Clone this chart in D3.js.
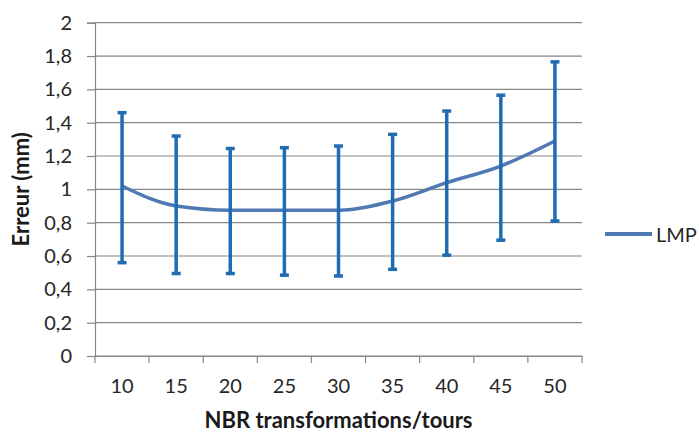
<!DOCTYPE html>
<html><head><meta charset="utf-8">
<script src="https://cdn.jsdelivr.net/npm/d3@7"></script>
<style>
html,body{margin:0;padding:0;background:#fff;}
svg{display:block;font-family:Lato,"Open Sans",sans-serif;}
</style></head>
<body>
<svg id="chart" width="699" height="434"></svg>
<script>
const categories = ["10","15","20","25","30","35","40","45","50"];
const values = [1.02, 0.90, 0.875, 0.875, 0.875, 0.93, 1.04, 1.14, 1.29];
const upper = [1.46, 1.32, 1.245, 1.25, 1.26, 1.33, 1.47, 1.565, 1.765];
const lower = [0.56, 0.495, 0.495, 0.485, 0.48, 0.52, 0.605, 0.695, 0.81];
const yTicks = [0, 0.2, 0.4, 0.6, 0.8, 1, 1.2, 1.4, 1.6, 1.8, 2];
const seriesName = "LMP";
const xTitle = "NBR transformations/tours";
const yTitle = "Erreur (mm)";

const svg = d3.select("#chart");
const m = {left: 95, right: 582, top: 22.7, bottom: 356};
const x = d3.scaleBand().domain(categories).range([m.left, m.right]).padding(0);
const y = d3.scaleLinear().domain([0, 2]).range([m.bottom, m.top]);
const fmt = d => String(d).replace(".", ",");

// gridlines
svg.append("g").selectAll("line").data(yTicks).join("line")
  .attr("x1", m.left).attr("x2", m.right)
  .attr("y1", d => y(d)).attr("y2", d => y(d))
  .attr("stroke", "#868686").attr("stroke-width", 1.2);

// y axis
const yAxis = svg.append("g").attr("transform", `translate(${m.left},0)`)
  .call(d3.axisLeft(y).tickValues(yTicks).tickFormat(fmt).tickSize(8).tickPadding(15));
yAxis.select(".domain").attr("stroke", "#868686").attr("stroke-width", 1.2);
yAxis.selectAll(".tick line").attr("stroke", "#868686").attr("stroke-width", 1.2);
yAxis.selectAll("text").attr("font-size", 20).attr("fill", "#262626").attr("font-family", "Lato");

// x axis
const xAxis = svg.append("g").attr("transform", `translate(0,${m.bottom})`)
  .call(d3.axisBottom(x).tickSize(0).tickPadding(23));
xAxis.select(".domain").attr("stroke", "#868686").attr("stroke-width", 1.2);
xAxis.selectAll("text").attr("font-size", 20).attr("fill", "#262626").attr("font-family", "Lato");
const bounds = categories.map(c => x(c)).concat([x.range()[1]]);
xAxis.append("g").selectAll("line").data(bounds).join("line")
  .attr("x1", d => d).attr("x2", d => d).attr("y1", 0).attr("y2", 7)
  .attr("stroke", "#868686").attr("stroke-width", 1.2);

// line
const line = d3.line()
  .x((d, i) => x(categories[i]) + x.bandwidth() / 2)
  .y(d => y(d))
  .curve(d3.curveMonotoneX);
svg.append("path").datum(values).attr("d", line)
  .attr("fill", "none").attr("stroke", "#4f79b3").attr("stroke-width", 3.5)
  .attr("stroke-linejoin", "round");

// error bars
const eb = svg.append("g").attr("stroke", "#1f6cb2");
categories.forEach((c, i) => {
  const cx = x(c) + x.bandwidth() / 2;
  eb.append("line").attr("x1", cx).attr("x2", cx).attr("y1", y(upper[i])).attr("y2", y(lower[i])).attr("stroke-width", 3.5);
  eb.append("line").attr("x1", cx - 4.5).attr("x2", cx + 4.5).attr("y1", y(upper[i])).attr("y2", y(upper[i])).attr("stroke-width", 3.5);
  eb.append("line").attr("x1", cx - 4.5).attr("x2", cx + 4.5).attr("y1", y(lower[i])).attr("y2", y(lower[i])).attr("stroke-width", 3.5);
});

// legend
svg.append("line").attr("x1", 605).attr("x2", 652).attr("y1", 234).attr("y2", 234)
  .attr("stroke", "#4f79b3").attr("stroke-width", 4);
svg.append("text").attr("x", 656).attr("y", 241.5).attr("font-size", 20)
  .attr("fill", "#262626").text(seriesName);

// titles
svg.append("text").attr("x", (m.left + m.right) / 2).attr("y", 428)
  .attr("text-anchor", "middle").attr("font-weight", "bold").attr("font-size", 22)
  .attr("fill", "#1a1a1a").text(xTitle);
svg.append("text").attr("transform", `translate(29,${(m.top + m.bottom) / 2}) rotate(-90)`)
  .attr("text-anchor", "middle").attr("font-weight", "bold").attr("font-size", 22)
  .attr("fill", "#1a1a1a").text(yTitle);
</script>
</body></html>
